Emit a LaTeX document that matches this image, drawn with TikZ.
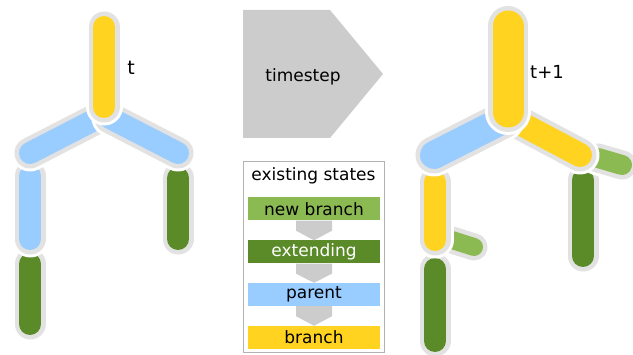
\documentclass[tikz,border=0pt]{standalone}
\usepackage{fontspec}
\setmainfont{DejaVu Sans}
\usepackage{tikz}
\usepackage{xcolor}

\definecolor{yel}{HTML}{FFD320}
\definecolor{sky}{HTML}{99CCFF}
\definecolor{darkgr}{HTML}{5B8A28}
\definecolor{lightgr}{HTML}{8CBA52}
\definecolor{ring}{HTML}{E2E2E2}
\definecolor{arrowgray}{HTML}{CCCCCC}

% one limb of a tree: white halo, gray ring, colour core
\newcommand\limb[4]{%
  \draw[white,line cap=round,line width={(#2+15)*1pt}] (#3) -- (#4);
  \draw[ring,line cap=round,line width={(#2+9)*1pt}] (#3) -- (#4);
  \draw[#1,line cap=round,line width={#2*1pt}] (#3) -- (#4);}

\tikzset{
  statebar/.style={minimum width=132pt,minimum height=23pt,inner sep=0pt,font=\fontsize{17}{19}\selectfont},
  lbl/.style={font=\fontsize{17}{19}\selectfont,inner sep=0pt}
}

\begin{document}
\begin{tikzpicture}[x=1pt,y=-1pt]
\useasboundingbox (0,0) rectangle (633,355);
% left hand: tree at t
\coordinate (lt) at (104,27);
\coordinate (lj) at (104,107);
\coordinate (la) at (98,118);
\coordinate (lb) at (110,118);
\coordinate (ll) at (30,153);
\coordinate (lr) at (178,153);
\limb{darkgr}{22}{30,264}{30,324}
\limb{sky}{22}{30,176}{30,239}
\limb{darkgr}{22}{178,178}{178,239}
\limb{sky}{22}{la}{ll}
\limb{sky}{22}{lb}{lr}
\limb{yel}{22}{lt}{lj}
\node[lbl,font=\fontsize{19}{21}\selectfont] (t) at (131,68) {t};
% right hand: tree at t+1
\coordinate (rt) at (508,26);
\coordinate (rj) at (508,112);
\coordinate (ra) at (503,120);
\coordinate (rb) at (514,120);
\coordinate (rl) at (434,155);
\coordinate (rr) at (580,155);
\limb{darkgr}{22}{435,269}{435,341}
\limb{lightgr}{18}{452,240}{474,247}
\limb{yel}{22}{435,182}{435,240}
\limb{darkgr}{22}{583,180}{583,256}
\limb{lightgr}{20}{598,158}{622,165}
\limb{yel}{24}{rb}{rr}
\limb{sky}{28}{ra}{rl}
\limb{yel}{31}{rt}{rj}
\node[lbl,font=\fontsize{18}{20}\selectfont] (t1) at (547,72) {t+1};
% timestep arrow
\fill[arrowgray] (243,10) -- (330,10) -- (383,74) -- (330,138) -- (243,138) -- cycle;
\node[lbl] (ts) at (303,77) {timestep};
% legend of the states
\draw[black!30,line width=1pt] (243,162) rectangle (384,353);
\node[lbl] (hd) at (313.5,176) {existing states};
\node[statebar,fill=lightgr] (nb) at (314,209) {new branch};
\node[statebar,fill=darkgr,text=white] (ex) at (314,252) {extending};
\node[statebar,fill=sky] (pa) at (314,294.5) {parent};
\node[statebar,fill=yel] (br) at (314,337.5) {branch};
\foreach \a/\b in {nb/ex,ex/pa,pa/br}
  \fill[arrowgray] ([xshift=-18pt]\a.south) -- ([xshift=18pt]\a.south)
    -- ([xshift=18pt,yshift=-10pt]\a.south) -- (\b.north)
    -- ([xshift=-18pt,yshift=-10pt]\a.south) -- cycle;
\end{tikzpicture}
\end{document}
